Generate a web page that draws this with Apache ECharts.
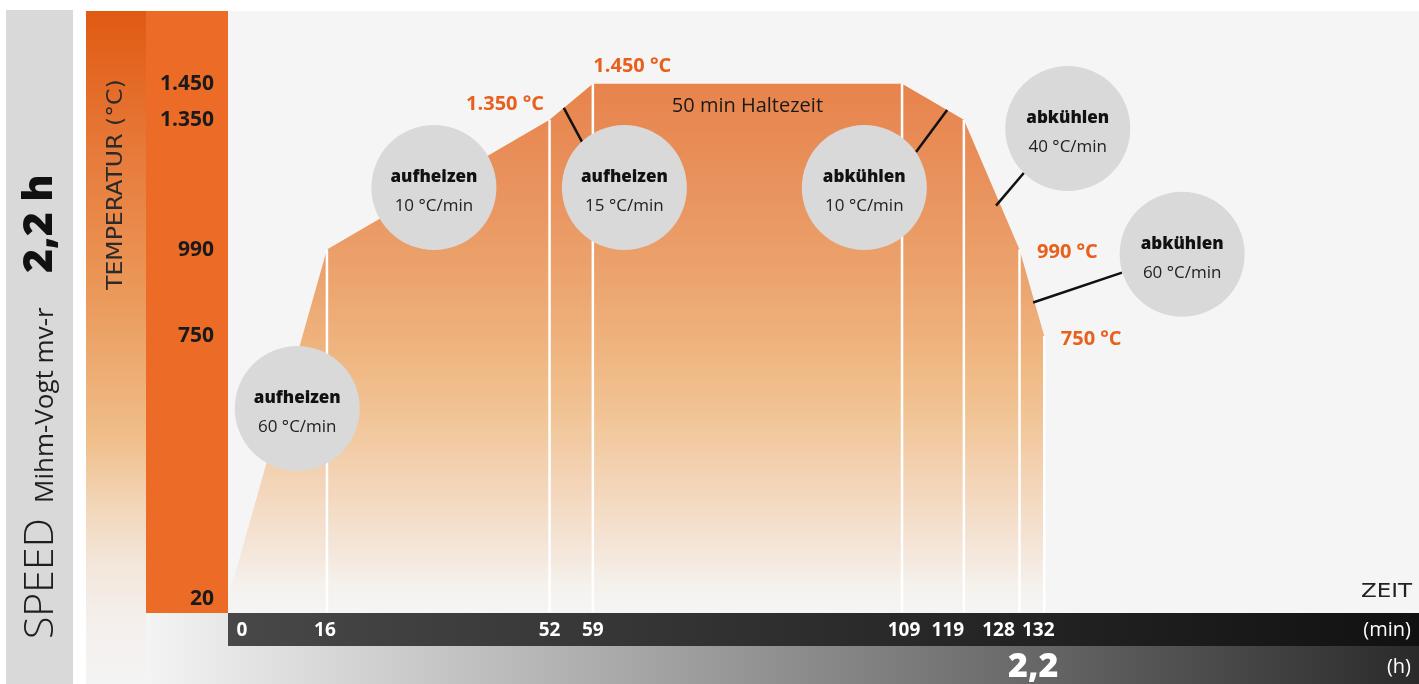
<!DOCTYPE html>
<html>
<head>
<meta charset="utf-8">
<script src="https://cdn.jsdelivr.net/npm/echarts@6/dist/echarts.min.js"></script>
<style>
  html, body { margin: 0; padding: 0; background: #ffffff; }
  #chart { width: 1419px; height: 684px; }
</style>
</head>
<body>
<div id="chart"></div>
<script>
// Sintering program: time in minutes and furnace temperature in °C
const times = [0, 16, 52, 59, 109, 119, 128, 132];
const temps = [20, 990, 1350, 1450, 1450, 1350, 990, 750];

// Profile points whose temperature is written next to the curve
const labelledPoints = [2, 3, 6, 7];

// Axis ticks; the crowded 128 tick gets its own label row so no label is dropped
const timeTicks = [0, 16, 52, 59, 109, 119, 132];
const crowdedTicks = [128];
const tempTicks = [20, 750, 990, 1350, 1450];

// Rate bubbles: phase and rate (°C/min)
const phaseNames = ['aufheizen', 'aufheizen', 'aufheizen', 'abkühlen', 'abkühlen', 'abkühlen'];
const phaseRates = [60, 10, 15, 10, 40, 60];

// ---- layout (chart units: min / °C) ----
const X_MIN = 0, X_MAX = 192.6;
const Y_MIN = -16, Y_MAX = 1652;
const bubbleAt = [[11.2, 549], [33.3, 1162], [64.1, 1162], [102.9, 1162], [135.8, 1326], [154.3, 977]];
const leaderLines = [
  [[54.3, 1383], [57.25, 1289]],
  [[116.3, 1377], [111.26, 1261]],
  [[124.2, 1112], [128.72, 1203]],
  [[130.2, 843], [144.57, 926]]
];
// horizontal nudges (px) for crowded time labels
const tickShift = { 0: 14, 16: -2, 109: 2, 119: -16, 128: -21, 132: -6 };
// placement of the printed temperatures
const tempLabelPlace = {
  2: { position: 'left', offset: [0, -16] },
  3: { position: 'right', offset: [-5, -17] },
  6: { position: 'right', offset: [12, 3] },
  7: { position: 'right', offset: [11, 3] }
};

const ORANGE_TEXT = '#e8601c';
const fmtTemp = v => (v >= 1000 ? String(v).replace(/(\d)(\d{3})$/, '$1.$2') : String(v));

const chart = echarts.init(document.getElementById('chart'), null, { renderer: 'canvas' });

// rich styles for shifted time labels
const tickRich = {};
timeTicks.concat(crowdedTicks).forEach(v => {
  const s = tickShift[v] || 0;
  tickRich['t' + v] = {
    color: '#ffffff', fontFamily: 'Open Sans', fontWeight: 'bold', fontSize: 19,
    padding: s > 0 ? [0, 0, 0, 2 * s] : [0, -2 * s, 0, 0]
  };
});

const profile = times.map((t, i) => [t, temps[i]]);

const hiddenAxisParts = { axisLine: { show: false }, axisTick: { show: false }, splitLine: { show: false } };
const timeAxis = ticks => Object.assign({
  type: 'value', min: X_MIN, max: X_MAX, position: 'bottom',
  axisLabel: {
    customValues: ticks, margin: 9, lineHeight: 20,
    hideOverlap: false, showMinLabel: true, showMaxLabel: true,
    formatter: v => '{t' + v + '|' + v + '}',
    rich: tickRich
  }
}, hiddenAxisParts);

const option = {
  animation: false,
  backgroundColor: '#ffffff',
  grid: { left: 228, right: 0, top: 11, bottom: 71, containLabel: false },
  xAxis: [
    timeAxis(timeTicks),
    timeAxis(crowdedTicks),
    Object.assign({
      // total duration in hours under the end of the program
      type: 'value', min: X_MIN, max: X_MAX, position: 'bottom',
      axisLabel: {
        customValues: [times[times.length - 1]], margin: 38, lineHeight: 34,
        hideOverlap: false, showMinLabel: true, showMaxLabel: true,
        formatter: v => '{h|' + (v / 60).toFixed(1).replace('.', ',') + '}',
        rich: { h: { color: '#ffffff', fontFamily: 'Open Sans', fontWeight: 800, fontSize: 34, padding: [0, 22, 0, 0] } }
      }
    }, hiddenAxisParts)
  ],
  yAxis: Object.assign({
    type: 'value', min: Y_MIN, max: Y_MAX,
    axisLabel: {
      customValues: tempTicks, margin: 14,
      hideOverlap: false, showMinLabel: true, showMaxLabel: true,
      color: '#1a1a1a', fontFamily: 'Open Sans', fontWeight: 'bold', fontSize: 21,
      formatter: v => fmtTemp(v)
    }
  }, hiddenAxisParts),
  graphic: {
    elements: [
      { type: 'rect', z: -10, silent: true, shape: { x: 6, y: 10, width: 67, height: 674 }, style: { fill: '#d9d9d9' } },
      {
        type: 'rect', z: -10, silent: true, shape: { x: 86, y: 11, width: 60, height: 673 },
        style: {
          fill: new echarts.graphic.LinearGradient(0, 0, 0, 1, [
            { offset: 0, color: '#e05a12' },
            { offset: 0.21, color: '#e77a3a' },
            { offset: 0.43, color: '#eb9a5b' },
            { offset: 0.64, color: '#f0bf8c' },
            { offset: 0.73, color: '#f2d5b6' },
            { offset: 0.82, color: '#f3e6da' },
            { offset: 0.9, color: '#f4efeb' },
            { offset: 1, color: '#f4f4f4' }
          ])
        }
      },
      { type: 'rect', z: -10, silent: true, shape: { x: 146, y: 11, width: 82, height: 602 }, style: { fill: '#ec6b26' } },
      { type: 'rect', z: -10, silent: true, shape: { x: 228, y: 11, width: 1191, height: 602 }, style: { fill: '#f5f5f5' } },
      {
        type: 'rect', z: -10, silent: true, shape: { x: 146, y: 613, width: 1273, height: 71 },
        style: { fill: new echarts.graphic.LinearGradient(0, 0, 1, 0, [
          { offset: 0, color: '#f4f4f4' }, { offset: 1, color: '#2a2a2a' }
        ]) }
      },
      {
        type: 'rect', z: -9, silent: true, shape: { x: 228, y: 613, width: 1191, height: 33 },
        style: { fill: new echarts.graphic.LinearGradient(0, 0, 1, 0, [
          { offset: 0, color: '#484848' }, { offset: 1, color: '#111111' }
        ]) }
      },
      // side banner
      {
        type: 'text', z: 100, silent: true, x: 41, y: 639, rotation: Math.PI / 2,
        style: { text: 'SPEED', fontFamily: 'Open Sans', fontWeight: 300, fontSize: 41, fill: '#1e1e1e', align: 'left', verticalAlign: 'middle' }
      },
      {
        type: 'text', z: 100, silent: true, x: 46, y: 503, rotation: Math.PI / 2, scaleX: 1.04,
        style: { text: 'Mihm-Vogt mv-r', fontFamily: 'Open Sans', fontSize: 25, fill: '#1e1e1e', align: 'left', verticalAlign: 'middle' }
      },
      {
        type: 'text', z: 100, silent: true, x: 40, y: 273, rotation: Math.PI / 2,
        style: { text: '2,2 h', fontFamily: 'Open Sans', fontWeight: 800, fontSize: 41, fill: '#111111', align: 'left', verticalAlign: 'middle' }
      },
      {
        type: 'text', z: 100, silent: true, x: 117, y: 290, rotation: Math.PI / 2, scaleX: 1.15,
        style: { text: 'TEMPERATUR (°C)', fontFamily: 'DejaVu Sans', fontSize: 20.5, fill: '#2a2a2a', align: 'left', verticalAlign: 'middle' }
      },
      {
        type: 'text', z: 100, silent: true, x: 1412, y: 592, scaleX: 1.15,
        style: { text: 'ZEIT', fontFamily: 'DejaVu Sans', fontSize: 20, fill: '#222222', align: 'right', verticalAlign: 'middle' }
      },
      {
        type: 'text', z: 100, silent: true, x: 1411, y: 630,
        style: { text: '(min)', fontFamily: 'Open Sans', fontSize: 20, fill: '#ffffff', align: 'right', verticalAlign: 'middle' }
      },
      {
        type: 'text', z: 100, silent: true, x: 1411, y: 667,
        style: { text: '(h)', fontFamily: 'Open Sans', fontSize: 20, fill: '#ffffff', align: 'right', verticalAlign: 'middle' }
      }
    ]
  },
  series: [
    {
      // heated area under the temperature profile
      type: 'line', z: 2, silent: true, symbol: 'none',
      data: profile,
      lineStyle: { width: 0, opacity: 0 },
      areaStyle: {
        origin: 'start', opacity: 1,
        color: new echarts.graphic.LinearGradient(0, 0, 0, 1, [
          { offset: 0, color: '#e8834c' },
          { offset: 0.2, color: '#e9935e' },
          { offset: 0.37, color: '#eca46e' },
          { offset: 0.5, color: '#efb47f' },
          { offset: 0.62, color: '#f1c394' },
          { offset: 0.75, color: '#f3d4b6' },
          { offset: 0.875, color: '#f4e5d7' },
          { offset: 0.95, color: '#f5f1ec' },
          { offset: 1, color: '#f5f5f5' }
        ])
      }
    },
    {
      // white drop lines at each phase boundary
      type: 'custom', z: 3, silent: true,
      data: profile.slice(1),
      encode: { x: 0, y: 1 },
      renderItem: (params, api) => {
        const top = api.coord([api.value(0), api.value(1)]);
        const bottom = api.coord([api.value(0), Y_MIN]);
        return {
          type: 'line',
          shape: { x1: top[0], y1: top[1], x2: bottom[0], y2: bottom[1] },
          style: { stroke: '#ffffff', lineWidth: 2.5 }
        };
      }
    },
    {
      // leader lines from the curve to the rate bubbles
      type: 'lines', coordinateSystem: 'cartesian2d', z: 4, silent: true,
      data: leaderLines.map(c => ({ coords: c })),
      lineStyle: { color: '#111111', width: 2.5, opacity: 1, curveness: 0 },
      symbol: 'none'
    },
    {
      // rate bubbles
      type: 'scatter', z: 5, silent: true,
      symbol: 'circle', symbolSize: 125,
      itemStyle: { color: '#d9d9d9', opacity: 1 },
      data: bubbleAt.map((p, i) => ({ value: [p[0], p[1]], name: phaseNames[i] })),
      label: {
        show: true, position: 'inside', offset: [0, 4],
        formatter: p => '{b|' + phaseNames[p.dataIndex] + '}\n{r|' + phaseRates[p.dataIndex] + ' °C/min}',
        rich: {
          b: { fontFamily: 'Open Sans', fontWeight: 800, fontSize: 17, color: '#111111', lineHeight: 29 },
          r: { fontFamily: 'Open Sans', fontSize: 17, color: '#222222', lineHeight: 29 }
        }
      }
    },
    {
      // printed temperatures at the profile corners
      type: 'scatter', z: 6, silent: true,
      symbol: 'circle', symbolSize: 1,
      itemStyle: { color: 'rgba(0,0,0,0)', opacity: 1 },
      data: labelledPoints.map(i => ({
        value: [times[i], temps[i]],
        label: Object.assign({ show: true }, tempLabelPlace[i])
      })),
      label: {
        show: true, distance: 5, opacity: 1,
        color: ORANGE_TEXT, fontFamily: 'Open Sans', fontWeight: 'bold', fontSize: 20,
        formatter: p => fmtTemp(p.value[1]) + ' °C'
      }
    },
    {
      // holding time on the plateau
      type: 'scatter', z: 6, silent: true,
      symbol: 'circle', symbolSize: 1,
      itemStyle: { color: 'rgba(0,0,0,0)', opacity: 1 },
      data: [[(times[3] + times[4]) / 2, temps[3]]],
      label: {
        show: true, position: 'inside', offset: [0, 23], opacity: 1,
        color: '#1a1a1a', fontFamily: 'Open Sans', fontSize: 20,
        formatter: () => (times[4] - times[3]) + ' min Haltezeit'
      }
    }
  ]
};

chart.setOption(option);
</script>
</body>
</html>
